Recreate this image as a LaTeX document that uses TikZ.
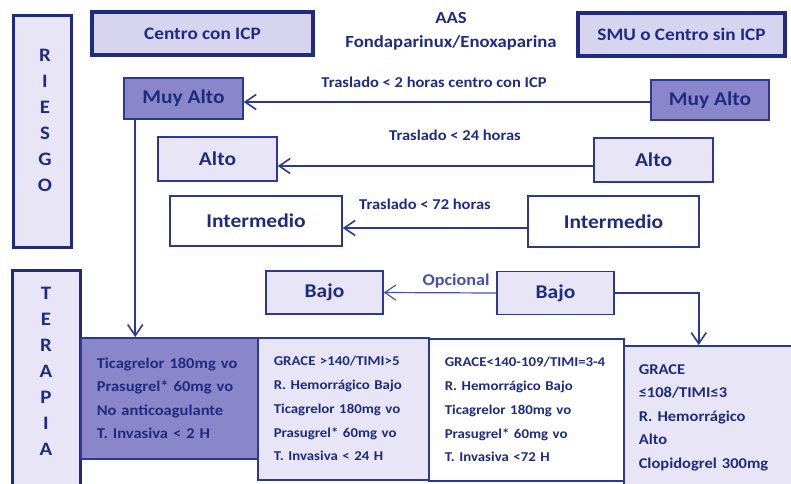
\documentclass[tikz,border=0pt]{standalone}
\usepackage{fontspec}
\setmainfont{Carlito}[FakeStretch=1.1]
\usetikzlibrary{arrows.meta}

\definecolor{navy}{HTML}{1F2B80}
\definecolor{linea}{HTML}{2B3894}
\definecolor{lila}{HTML}{E8E6F6}
\definecolor{lilamed}{HTML}{D6D4EE}
\definecolor{morado}{HTML}{8A86CA}
\definecolor{opcional}{HTML}{4650AE}

\begin{document}
\begin{tikzpicture}[x=1pt,y=-1pt]

\tikzset{
    caja/.style={draw=linea, line width=1.5pt, text=navy, inner sep=0pt,
        font=\bfseries\fontsize{19.5}{24}\selectfont},
    cajagruesa/.style={caja, draw=navy, line width=3.5pt, fill=lilamed,
        font=\bfseries\fontsize{17.5}{20}\selectfont},
    letras/.style={text=navy, align=center, font=\bfseries\fontsize{19}{26}\selectfont},
    lista/.style={caja, anchor=north west, align=left, inner xsep=15pt, inner ysep=0pt,
        font=\bfseries\fontsize{15}{23.5}\selectfont},
    listachica/.style={lista, font=\bfseries\fontsize{13.5}{23.75}\selectfont},
    flecha/.style={draw=linea, line width=1.6pt, -{Straight Barb[length=11pt,width=15pt]}},
    rotulo/.style={text=navy, font=\bfseries\fontsize{15}{18}\selectfont}
}

\useasboundingbox (0,0) rectangle (791,483);
\clip (0,0) rectangle (791,483);

% columna izquierda
\node[cajagruesa, fill=lila, line width=3pt, minimum width=58, minimum height=232] (riesgo) at (42,131) {};
\node[letras] (letrasR) at (45,120) {R\\I\\E\\S\\G\\O};
\node[cajagruesa, fill=lila, line width=3pt, minimum width=68, minimum height=222] (terapia) at (46,381) {};
\node[letras] (letrasT) at (46,371) {T\\E\\R\\A\\P\\I\\A};

% cabecera
\node[cajagruesa, minimum width=221, minimum height=43] (centro) at (202.5,33.5) {Centro con ICP};
\node[cajagruesa, minimum width=207, minimum height=43] (smu) at (681.5,34.5) {SMU o Centro sin ICP};
\node[rotulo, align=center, font=\bfseries\fontsize{17}{24}\selectfont] (aas) at (451,31) {AAS\\Fondaparinux/Enoxaparina};

% niveles de riesgo
\node[caja, fill=morado, minimum width=119, minimum height=41] (muyaltoA) at (183.5,98.5) {Muy Alto};
\node[caja, fill=morado, minimum width=118, minimum height=40] (muyaltoB) at (710,100) {Muy Alto};
\node[caja, fill=lila, minimum width=119, minimum height=44] (altoA) at (217.5,159) {Alto};
\node[caja, fill=lila, minimum width=119, minimum height=44] (altoB) at (653.5,160) {Alto};
\node[caja, fill=white, minimum width=172, minimum height=50] (intermA) at (256,221) {Intermedio};
\node[caja, fill=white, minimum width=171, minimum height=51] (intermB) at (613.5,221.5) {Intermedio};
\node[caja, fill=lila, minimum width=117, minimum height=43] (bajoA) at (324.5,292.5) {Bajo};
\node[caja, fill=lila, minimum width=117, minimum height=43] (bajoB) at (555.5,293) {Bajo};

% terapias
\node[lista, fill=morado, inner xsep=16pt, text width=145, minimum height=121] (terap1) at (80,337)
    {Ticagrelor 180mg vo\\Prasugrel* 60mg vo\\No anticoagulante\\T. Invasiva < 2 H};
\node[listachica, fill=lila, inner xsep=16pt, text width=139, minimum height=142] (terap2) at (257,337)
    {GRACE >140/TIMI>5\\R. Hemorrágico Bajo\\Ticagrelor 180mg vo\\Prasugrel* 60mg vo\\T. Invasiva < 24 H};
\node[listachica, fill=white, inner xsep=16pt, text width=163, minimum height=142] (terap3) at (428,338)
    {GRACE<140-109/TIMI=3-4\\R. Hemorrágico Bajo\\Ticagrelor 180mg vo\\Prasugrel* 60mg vo\\T. Invasiva <72 H};
\node[lista, fill=lila, text width=142, minimum height=144] (terap4) at (623,345)
    {GRACE\\≤108/TIMI≤3\\R. Hemorrágico\\Alto\\Clopidogrel 300mg};

% traslados
\draw[flecha] ([yshift=-2pt]muyaltoB.west) -- ([yshift=-2pt]muyaltoB.west -| muyaltoA.east);
\node[rotulo] (tras1) at (434,82) {Traslado < 2 horas centro con ICP};
\draw[flecha] ([yshift=-6pt]altoB.west) -- ([yshift=-6pt]altoB.west -| altoA.east);
\node[rotulo] (tras2) at (455,135) {Traslado < 24 horas};
\draw[flecha] ([yshift=-6.5pt]intermB.west) -- ([yshift=-6.5pt]intermB.west -| intermA.east);
\node[rotulo] (tras3) at (425,204) {Traslado < 72 horas};
\draw[flecha, draw=opcional, line width=1.2pt] (bajoB.west) -- (bajoA.east);
\node[rotulo, text=opcional, font=\bfseries\fontsize{16.5}{18}\selectfont] (opc) at (456,281) {Opcional};

% hacia las terapias
\draw[flecha] ([xshift=12pt]muyaltoA.south west) -- ([xshift=12pt]muyaltoA.south west |- terap1.north);
\draw[flecha] (bajoB.east) -| ([xshift=-11pt]terap4.north);
\end{tikzpicture}
\end{document}
